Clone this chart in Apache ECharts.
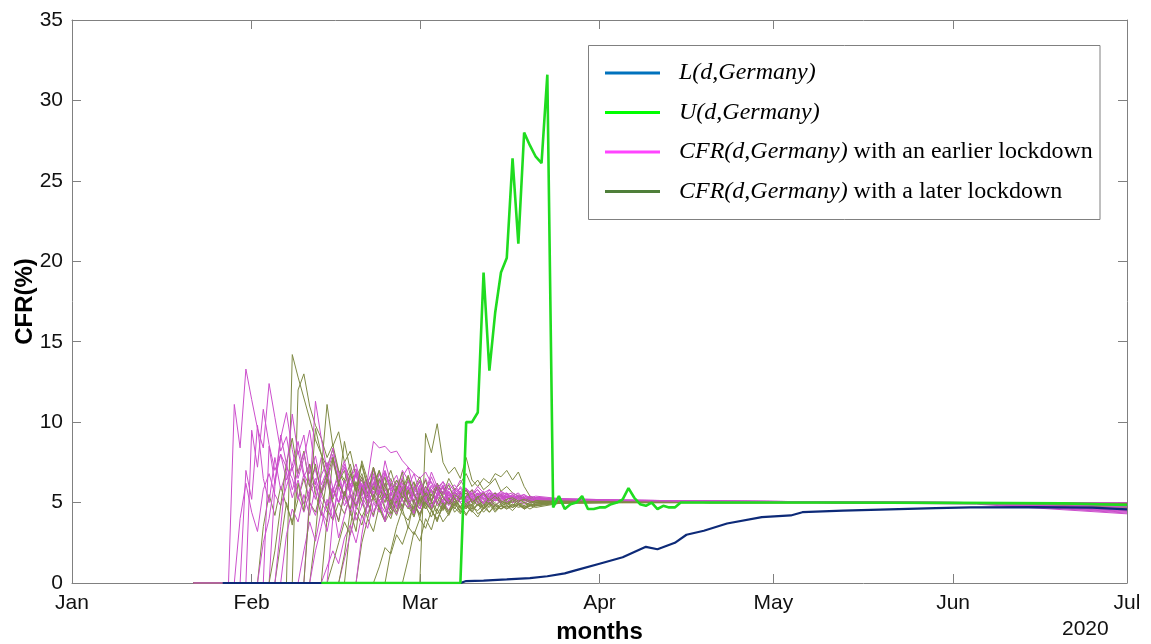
<!DOCTYPE html>
<html>
<head>
<meta charset="utf-8">
<script src="https://cdn.jsdelivr.net/npm/echarts@6/dist/echarts.min.js"></script>
<style>html,body{margin:0;padding:0;background:#fff}#c{width:1151px;height:644px}</style>
</head>
<body>
<div id="c"></div>
<script>
// ---------- data ----------
const monthDates = ['2020-01-01','2020-02-01','2020-03-01','2020-04-01','2020-05-01','2020-06-01','2020-07-01'];
const monthLabels = ['Jan','Feb','Mar','Apr','May','Jun','Jul'];
const yTicks = [0,5,10,15,20,25,30,35];

const zeroFrom = '2020-01-22';
const tailDates = ['2020-03-25','2020-04-05','2020-04-20','2020-05-10','2020-06-05','2020-07-01'];

// CFR with an earlier lockdown: first non-zero day and daily values from it
const earlyStart = ['2020-01-29','2020-01-30','2020-02-01','2020-02-03','2020-02-05','2020-02-07',
  '2020-02-11','2020-02-12','2020-02-15','2020-02-17','2020-01-31','2020-02-14',
  '2020-02-06','2020-02-10','2020-02-04','2020-02-20'];
const earlyDaily = [
  [11.1,8.4,13.3,11.4,9.6,8.4,12.4,10.3,8.2,9.1,7.0,8.2,6.6, 7.4,6.1,7.8,6.4,5.6,7.0,5.2,6.5,5.7,4.8,6.2,5.4,6.8,5.9,5.1, 6.0,5.3,6.4,5.6,4.9,5.8,6.3,5.4,5.0,5.7,5.2,6.0,5.5, 5.1,5.6,5.3,5.8,5.2,5.5,5.0,5.4,5.6,5.2,5.3,5.1],
  [4.0,6.2,4.4,3.2,5.8,6.8,5.5,4.8,6.0,7.2,5.4,4.4, 5.6,6.3,4.5,3.8,5.8,5.0,6.4,4.2,5.5,6.6,4.9,4.1,5.7,6.2,4.8, 5.4,6.5,5.0,4.4,5.9,5.3,4.7,5.6,6.1,5.2,4.8,5.5,5.8, 5.0,5.4,5.7,5.1,5.5,5.2,5.6,5.0,5.3,5.5,5.1,5.3],
  [9.5,7.2,10.8,8.6,7.0,8.0,6.4,7.3,8.8,6.8, 6.0,7.2,5.6,6.5,7.5,6.2,5.4,6.6,7.1,5.8,5.1,6.3,5.6,6.9,6.0, 5.2,6.4,5.8,5.0,6.1,5.5,6.6,5.7,5.1,5.9,5.4,5.6,5.2, 5.7,5.3,5.5,5.0,5.6,5.4,5.2,5.5,5.3,5.1,5.4,5.2],
  [2.5,4.0,6.4,8.0,7.2,6.5,5.2,6.8, 5.0,4.2,5.5,6.4,4.8,3.9,5.6,4.5,5.9,5.2,4.3,5.4,6.0,4.7,4.2, 5.3,4.6,5.6,4.9,4.3,5.2,5.8,4.8,5.1,4.5,5.4,5.0,4.7, 5.2,4.9,5.3,5.0,4.8,5.2,5.4,5.0,5.1,4.9,5.2,5.0],
  [6.0,9.0,10.6,8.3,6.5,7.8, 9.5,7.0,5.8,6.9,8.0,6.2,5.5,6.6,7.4,5.9,6.5,5.4,6.2,7.0,5.8, 6.4,5.5,6.0,6.8,5.6,5.2,6.1,5.7,6.3,5.4,5.9,5.6,5.3, 5.8,5.5,5.2,5.6,5.4,5.7,5.3,5.5,5.2,5.4,5.3,5.2],
  [3.0,4.6,3.8,5.5, 4.2,6.0,5.0,4.4,5.8,6.6,5.2,4.6,5.4,6.2,5.0,5.7,4.8,4.0,5.3, 4.6,5.9,5.1,4.4,5.5,6.0,4.9,5.3,4.6,5.7,5.0,5.4,4.8, 5.3,5.0,5.5,4.9,5.2,5.4,5.0,5.3,5.1,5.2,5.0,5.2],
  [5.5,11.3,9.0,7.0,8.4,6.6,7.6,6.0,6.9,5.5,6.3,7.0,5.9,5.3,6.1, 6.7,5.6,5.0,5.7,6.4,5.3,5.8,6.2,5.4,5.0,5.6,5.9,5.3, 5.5,5.8,5.2,5.4,5.6,5.1,5.5,5.3,5.4,5.2,5.3,5.2],
  [2.0,3.5,5.2,4.0,6.0,4.8,5.6,6.8,5.4,4.7,5.9,6.4,5.3,4.6, 5.7,5.2,6.0,5.4,4.6,5.5,5.1,6.1,5.3,4.8,5.6,5.2,5.8, 5.1,5.4,5.0,5.6,5.2,5.0,5.4,5.2,5.5,5.1,5.3,5.2],
  [4.0,6.3,7.4,5.8,6.7,5.4,6.2,7.2,6.0,5.3,6.1, 5.6,7.0,6.4,5.8,5.5,6.5,5.6,5.3,6.0,5.4,5.8,5.5,5.2, 5.6,5.3,5.5,5.2,5.4,5.6,5.3,5.2,5.4,5.3,5.2,5.3],
  [1.5,3.0,4.6,5.8,6.5,8.8,8.4,8.5,8.1, 8.2,7.6,7.2,6.8,6.5,6.9,6.2,5.9,6.3,5.8,6.1,5.6,5.9, 5.5,5.8,5.4,5.6,5.3,5.5,5.6,5.3,5.4,5.2,5.4,5.3],
  [7.0,5.2,9.8,6.5,5.0,7.8,5.8,6.9,5.3,6.4,4.9, 5.8,6.5,5.4,4.8,5.9,5.0,5.6,6.2,4.6,5.7,6.4,5.1,4.7,5.8,5.3, 4.8,5.6,6.0,5.0,4.6,5.5,5.2,5.9,4.9,5.3,5.7,5.0,5.4, 5.1,5.5,4.9,5.3,5.6,5.0,5.2,5.4,5.1,5.3,5.0,5.2],
  [1.0,2.0,1.2,2.8,3.6,2.5,4.2,3.4,5.0,4.4,5.6,4.9, 4.3,5.3,6.0,5.1,4.6,5.5,5.8,4.9,5.2,5.6,5.0,5.4,5.1, 5.5,5.2,5.0,5.4,5.1,5.3,5.5,5.2,5.0,5.3,5.1,5.2],
  [3.5,7.0,10.5,8.0,9.2,6.8,7.9,6.1,7.0,5.3,6.4,7.2,5.6,4.9,6.1,5.5,6.6,5.0,4.4,5.7,6.2,5.1,4.7,5.6,6.0,5.2,4.8,5.5,5.9,5.1,5.3,5.7,5.0,5.4,5.6,5.2,5.5,5.1,5.3,5.4,5.2,5.3,5.2,5.1,5.3],
  [2.0,3.8,2.6,4.5,3.2,5.0,2.8,4.2,5.5,3.9,4.8,6.0,4.4,5.2,3.8,5.6,4.7,6.2,5.0,4.3,5.8,5.1,4.6,5.5,6.0,4.9,5.3,5.7,5.0,5.4,5.2,5.6,5.1,5.3,5.5,5.2,5.4,5.1,5.3,5.2,5.3],
  [8.5,6.2,9.2,7.4,5.8,6.9,8.1,6.3,5.2,6.7,7.5,5.9,5.0,6.4,5.6,7.0,6.0,5.3,6.2,5.5,6.8,5.7,5.1,5.9,6.3,5.4,5.8,5.2,6.0,5.5,5.7,5.3,5.6,5.4,5.8,5.3,5.5,5.6,5.3,5.4,5.5,5.3,5.4,5.2,5.3,5.2,5.3],
  [3.0,5.0,6.8,5.5,7.6,6.2,5.4,6.6,7.2,5.8,6.4,5.6,6.9,6.0,5.5,6.2,5.7,6.4,5.8,5.5,6.0,5.6,5.8,5.4,5.7,5.5,5.6,5.4,5.5,5.3,5.4]
];
const earlyTail = [
  [5.15,5.1,5.05,5.0,4.95,4.45],[5.2,5.1,5.05,5.0,4.9,4.3],[5.1,5.1,5.05,5.0,4.95,4.55],
  [5.15,5.05,5.0,5.0,4.95,4.7],[5.2,5.15,5.1,5.05,5.0,4.85],[5.1,5.05,5.05,5.0,4.95,4.6],
  [5.2,5.1,5.1,5.05,5.0,4.95],[5.15,5.1,5.05,5.0,4.95,4.4],[5.2,5.15,5.1,5.05,5.0,4.75],
  [5.25,5.15,5.1,5.05,5.0,5.0],[5.1,5.05,5.0,5.0,4.95,4.5],[5.15,5.1,5.05,5.0,4.95,4.65],
  [5.15,5.1,5.05,5.0,4.95,4.6],[5.2,5.1,5.05,5.0,4.95,4.35],[5.2,5.15,5.1,5.05,5.0,4.8],
  [5.25,5.15,5.1,5.05,5.0,4.5]
];

// CFR with a later lockdown
const lateStart = ['2020-02-08','2020-02-09','2020-02-03','2020-02-12','2020-02-15','2020-02-20',
  '2020-02-23','2020-02-28','2020-03-02','2020-02-18','2020-02-14','2020-02-05',
  '2020-02-06','2020-02-17','2020-02-25','2020-02-11'];
const lateDaily = [
  [14.2,12.8,11.5,10.2,8.9,8.0,7.2,8.3,6.9,6.2,7.0,5.8,6.4,5.5,6.1,7.0,5.4,4.8, 5.9,5.2,4.6,5.7,6.3,5.0,4.5,5.4,6.0,4.9,5.3,4.7,5.2, 4.8,5.3,5.0,4.7,5.2,5.4,4.9,5.1,5.3,5.0,4.9,5.1],
  [12.0,13.0,11.0,9.8,9.0,7.8,8.6,7.0,6.4,7.4,6.0,6.8,5.6,6.2,5.3,5.9,6.5, 5.4,4.8,5.8,6.2,5.1,4.6,5.5,5.9,4.8,5.2,5.7,5.0,4.6, 5.3,5.0,4.7,5.2,5.4,4.9,5.1,4.8,5.2,5.0,5.1,4.9],
  [3.5,5.5,4.2,6.0,4.8,3.8,5.2,6.5,5.0,4.4,5.8,4.6,3.9,5.0,4.3,5.4,4.8,4.1,4.9,5.3,4.6,3.8,4.5, 5.1,4.3,3.9,4.8,4.2,5.0,4.5,4.0,4.7,5.2,4.4,4.8,4.3, 4.7,4.5,4.9,4.4,4.8,4.6,5.0,4.7,4.9,4.6,4.8,4.9],
  [3.0,7.0,11.1,8.5,9.4,7.5,8.2,6.6,7.3,5.9,6.6,5.5,6.1,7.0, 5.8,6.4,5.2,5.9,6.6,5.5,5.0,6.0,5.4,4.9,5.7,5.3,5.6, 5.0,5.4,5.2,4.9,5.3,5.5,5.1,5.0,5.3,5.1,5.2,5.0],
  [1.2,2.5,3.8,3.0,4.4,3.6,5.0,4.2,5.6,4.6,4.0, 5.2,4.5,5.8,4.9,4.3,5.1,4.6,5.3,4.8,4.4,4.9,4.5,5.0, 4.6,4.9,4.4,4.8,5.0,4.6,4.8,4.7,4.9,4.6,4.8,4.9],
  [2.5,4.0,3.2,4.8,5.5,4.3, 5.0,6.0,5.2,4.6,5.4,4.9,5.8,5.0,4.5,5.2,4.8,5.6,5.1, 4.7,5.2,4.9,5.3,4.8,5.1,4.9,5.2,5.0,4.8,5.0,5.1],
  [1.0,2.2,1.8,3.0,2.4,3.5,3.0,4.0,3.4,4.5,3.9,4.8,4.2,5.0,4.4,4.7, 4.9,4.3,4.6,5.0,4.5,4.8,4.6,4.9,4.7,4.8,4.6,4.8],
  [1.5,3.2,2.6,4.0,3.3,4.6,3.8,4.3,5.0,4.4,4.8, 4.5,4.1,4.7,4.4,4.9,4.6,4.8,4.5,4.9,4.7,4.8,4.9],
  [9.3,8.1,9.9,7.5,6.8,7.2,6.5,7.8,6.4,6.0,6.5,6.2,6.8,6.6,7.0,6.4,6.9,6.0,5.4,5.2,5.0,5.1],
  [3.5,5.5,7.6,6.4,5.8,7.0,6.0,5.4, 6.4,5.8,6.7,5.5,5.0,6.0,5.4,6.2,5.5,6.5,5.8,6.2,6.8, 6.0,6.4,5.8,6.1,6.5,5.7,6.0,5.6,5.4,5.2,5.3,5.1],
  [4.0,7.8,6.0,8.8,7.0,5.8,6.6,5.4,7.2,6.0,5.0,6.2, 5.5,4.7,5.6,6.3,5.2,4.8,5.5,5.0,5.7,5.1,4.6,5.3,4.9, 5.2,4.8,5.1,4.9,5.3,5.0,4.8,5.1,4.9,5.0,4.8,5.0],
  [2.0,4.8,7.5,9.0,6.8,8.2,6.0,7.4,5.6,6.8,5.2,6.3,7.0,5.5,4.8,5.9,5.3,6.0,5.1,5.6,4.9, 4.2,5.4,5.0,4.5,5.6,4.8,4.1,5.0,4.6,5.3,4.7,4.3,4.9, 4.5,4.9,4.6,5.0,4.7,4.9,4.6,4.8,5.0,4.7,4.9,4.8],
  [2.5,5.0,3.6,6.2,4.5,7.4,5.6,4.2,6.5,5.0,3.8,5.7,4.6,6.3,5.1,4.0,5.5,4.7,3.9,5.2,4.4,5.8,4.8,4.1,5.3,4.6,5.0,4.3,4.9,4.5,5.1,4.6,4.8,4.4,4.9,4.7,5.0,4.6,4.8,4.7,4.9,4.8,4.7,4.9,4.8],
  [1.8,4.5,3.2,6.0,4.8,7.2,5.5,6.6,4.6,5.8,6.9,5.0,4.2,5.6,6.4,5.1,4.5,5.5,6.1,5.2,4.7,5.4,5.8,5.0,4.8,5.3,5.6,5.1,4.9,5.2,5.0,5.3,5.1,5.0],
  [2.0,3.5,4.6,3.4,5.2,4.0,5.6,4.6,3.8,5.0,4.3,5.3,4.7,4.2,4.9,5.4,4.6,4.9,4.4,4.8,5.0,4.7,4.9,4.6,4.8,4.7],
  [5.0,9.6,8.0,6.6,7.8,6.2,5.4,6.8,5.7,7.4,6.1,5.2,6.5,5.6,4.9,6.0,5.3,6.6,5.5,4.8,5.7,5.1,6.0,5.3,4.9,5.5,5.2,5.8,5.0,5.3,5.6,5.1,5.4,5.0,5.2,5.3,5.1,5.2,5.0,5.1]
];
const lateTail = [
  [5.1,5.05,5.0,5.0,4.98,4.9],[5.1,5.05,5.05,5.0,4.98,4.85],[5.0,5.0,5.0,5.0,4.98,4.95],
  [5.15,5.05,5.05,5.02,5.0,4.9],[5.05,5.0,5.0,5.0,4.97,4.8],[5.05,5.05,5.0,5.0,4.98,4.92],
  [4.95,5.0,5.0,5.0,4.97,4.88],[5.0,5.0,5.0,5.0,4.98,4.95],[5.1,5.05,5.05,5.02,4.98,4.7],
  [5.1,5.05,5.0,5.0,4.98,4.9],[5.05,5.05,5.0,5.0,4.97,4.85],[5.1,5.05,5.0,5.0,4.98,4.92],
  [5.0,5.0,5.0,5.0,4.98,4.95],[5.05,5.05,5.0,5.0,4.98,4.9],[4.95,5.0,5.0,5.0,4.97,4.92],
  [5.1,5.05,5.0,5.0,4.98,4.88]
];

// L(d,Germany)
const lPoints = [
  ['2020-01-27',0],['2020-03-08',0],['2020-03-09',0.12],['2020-03-12',0.15],['2020-03-16',0.22],
  ['2020-03-20',0.3],['2020-03-23',0.42],['2020-03-26',0.6],['2020-03-28',0.8],['2020-04-01',1.2],
  ['2020-04-05',1.6],['2020-04-09',2.25],['2020-04-11',2.1],['2020-04-14',2.5],['2020-04-16',3.0],
  ['2020-04-19',3.25],['2020-04-23',3.7],['2020-04-29',4.1],['2020-05-04',4.2],['2020-05-06',4.4],
  ['2020-05-13',4.5],['2020-05-29',4.65],['2020-06-04',4.7],['2020-06-15',4.72],['2020-06-25',4.68],['2020-07-01',4.58]
];

// U(d,Germany)
const uLead = [['2020-02-13',0],['2020-03-08',0]];
const uDailyStart = '2020-03-09';
const uDaily = [10.0,10.0,10.6,19.3,13.2,16.8,19.3,20.2,26.4,21.1,28.0,27.2,26.5,26.1,31.6,4.7,5.4,4.6,4.9,5.0,
  5.4,4.6,4.6,4.7,4.7,4.9,5.0,5.2,5.9,5.3,4.9,4.8,5.0,4.6,4.8,4.7,4.7,5.0];
const uTail = [['2020-04-25',5.0],['2020-05-10',5.0],['2020-06-01',4.98],['2020-06-20',4.95],['2020-07-01',4.85]];

const names = ['L(d,Germany)','U(d,Germany)','CFR(d,Germany) with an earlier lockdown','CFR(d,Germany) with a later lockdown'];

// ---------- build ----------
const DAY0 = Date.UTC(2020,0,1);
const day = s => (Date.UTC(+s.slice(0,4), +s.slice(5,7)-1, +s.slice(8,10)) - DAY0) / 864e5;
const monthDays = monthDates.map(day);

function curve(start, daily, tail) {
  const s = day(start);
  const pts = [[day(zeroFrom),0],[s-1,0]];
  daily.forEach((v,i)=>pts.push([s+i,v]));
  tail.forEach((v,i)=>pts.push([day(tailDates[i]),v]));
  return pts;
}

const PINK = '#cc4fcc', OLIVE = '#7f8a45';
const series = [];
const nSp = Math.max(earlyStart.length, lateStart.length);
for (let i = 0; i < nSp; i++) {
  if (i < lateStart.length)
    series.push({name: names[3], type:'line', showSymbol:false, symbol:'none', data: curve(lateStart[i], lateDaily[i], lateTail[i]),
      lineStyle:{width:1, color:OLIVE}, itemStyle:{color:OLIVE}, z:2});
  if (i < earlyStart.length)
    series.push({name: names[2], type:'line', showSymbol:false, symbol:'none', data: curve(earlyStart[i], earlyDaily[i], earlyTail[i]),
      lineStyle:{width:1, color:PINK}, itemStyle:{color:PINK}, z:2});
}
const lData = lPoints.map(p=>[day(p[0]),p[1]]);
series.push({name: names[0], type:'line', symbol:'none', data:lData, lineStyle:{width:2.2,color:'#0d2a78'}, itemStyle:{color:'#0d2a78'}, z:3});
const uData = uLead.map(p=>[day(p[0]),p[1]]);
const us = day(uDailyStart);
uDaily.forEach((v,i)=>uData.push([us+i,v]));
uTail.forEach(p=>uData.push([day(p[0]),p[1]]));
series.push({name: names[1], type:'line', symbol:'none', data:uData, lineStyle:{width:2.6,color:'#1fdc1f'}, itemStyle:{color:'#1fdc1f'}, z:4});

const AX = '#808080';
const SANS = "'Liberation Sans', Arial, Helvetica, sans-serif";
const SERIF = "'Liberation Serif', 'Times New Roman', serif";
const legendRich = {
  s:{width:14},
  i:{fontFamily:SERIF, fontStyle:'italic', fontSize:24, color:'#000', lineHeight:26},
  n:{fontFamily:SERIF, fontStyle:'normal', fontSize:24, color:'#000', lineHeight:26}
};
const legendText = {
  [names[0]]:'{s|}{i|L(d,Germany)}',
  [names[1]]:'{s|}{i|U(d,Germany)}',
  [names[2]]:'{s|}{i|CFR(d,Germany)}{n| with an earlier lockdown}',
  [names[3]]:'{s|}{i|CFR(d,Germany)}{n| with a later lockdown}'
};
const legendColors = ['#0072bd','#00ff00','#ff44ff','#4f7f3a'];

const chart = echarts.init(document.getElementById('c'), null, {renderer:'canvas'});
chart.setOption({
  animation:false,
  backgroundColor:'#fff',
  grid:{left:72, right:24, top:20, bottom:61, outerBoundsMode:'none', containLabel:false},
  xAxis:[{
    type:'value', min:monthDays[0], max:monthDays[monthDays.length-1], position:'bottom',
    name:'months', nameLocation:'middle', nameGap:37, nameMoveOverlap:false,
    nameTextStyle:{fontFamily:SANS, fontWeight:'bold', fontSize:24, color:'#000'},
    axisLine:{show:true, onZero:false, lineStyle:{color:AX, width:1}},
    axisTick:{show:true, inside:true, length:9, customValues:monthDays, lineStyle:{color:AX}},
    axisLabel:{show:true, customValues:monthDays, margin:10, fontFamily:SANS, fontSize:21, color:'#111',
      formatter:v=>{const k=monthDays.indexOf(v); return k>=0?monthLabels[k]:'';}},
    splitLine:{show:false}
  },{
    type:'value', min:monthDays[0], max:monthDays[monthDays.length-1], position:'top',
    axisLine:{show:true, onZero:false, lineStyle:{color:AX, width:1}},
    axisTick:{show:true, inside:true, length:9, customValues:monthDays, lineStyle:{color:AX}},
    axisLabel:{show:false}, splitLine:{show:false}
  }],
  yAxis:[{
    type:'value', min:0, max:35, interval:5, position:'left',
    name:'CFR(%)', nameLocation:'middle', nameGap:35, nameRotate:90, nameMoveOverlap:false,
    nameTextStyle:{fontFamily:SANS, fontWeight:'bold', fontSize:24, color:'#000'},
    axisLine:{show:true, onZero:false, lineStyle:{color:AX, width:1}},
    axisTick:{show:true, inside:true, length:9, lineStyle:{color:AX}},
    axisLabel:{margin:9, fontFamily:SANS, fontSize:21, color:'#111', formatter:v=>yTicks.includes(v)?String(v):''},
    splitLine:{show:false}
  },{
    type:'value', min:0, max:35, interval:5, position:'right',
    axisLine:{show:true, onZero:false, lineStyle:{color:AX, width:1}},
    axisTick:{show:true, inside:true, length:9, lineStyle:{color:AX}},
    axisLabel:{show:false}, splitLine:{show:false}
  }],
  legend:{
    orient:'vertical', left:605, top:60, padding:0, itemGap:13.5, z:20,
    icon:'rect', itemWidth:55, itemHeight:3.2, selectedMode:false,
    data: names.map((n,k)=>({name:n, itemStyle:{color:legendColors[k], borderWidth:0}, lineStyle:{color:legendColors[k]}})),
    formatter: n => legendText[n],
    textStyle:{rich:legendRich, lineHeight:26}
  },
  graphic:[
    {type:'rect', shape:{x:588.5, y:45.5, width:511.5, height:174}, style:{fill:'#fff', stroke:AX, lineWidth:1}, z:3},
    {type:'text', left:1062, top:619, style:{text:'2020', fontFamily:SANS, fontSize:21, fill:'#111'}}
  ],
  series: series
});
</script>
</body>
</html>
